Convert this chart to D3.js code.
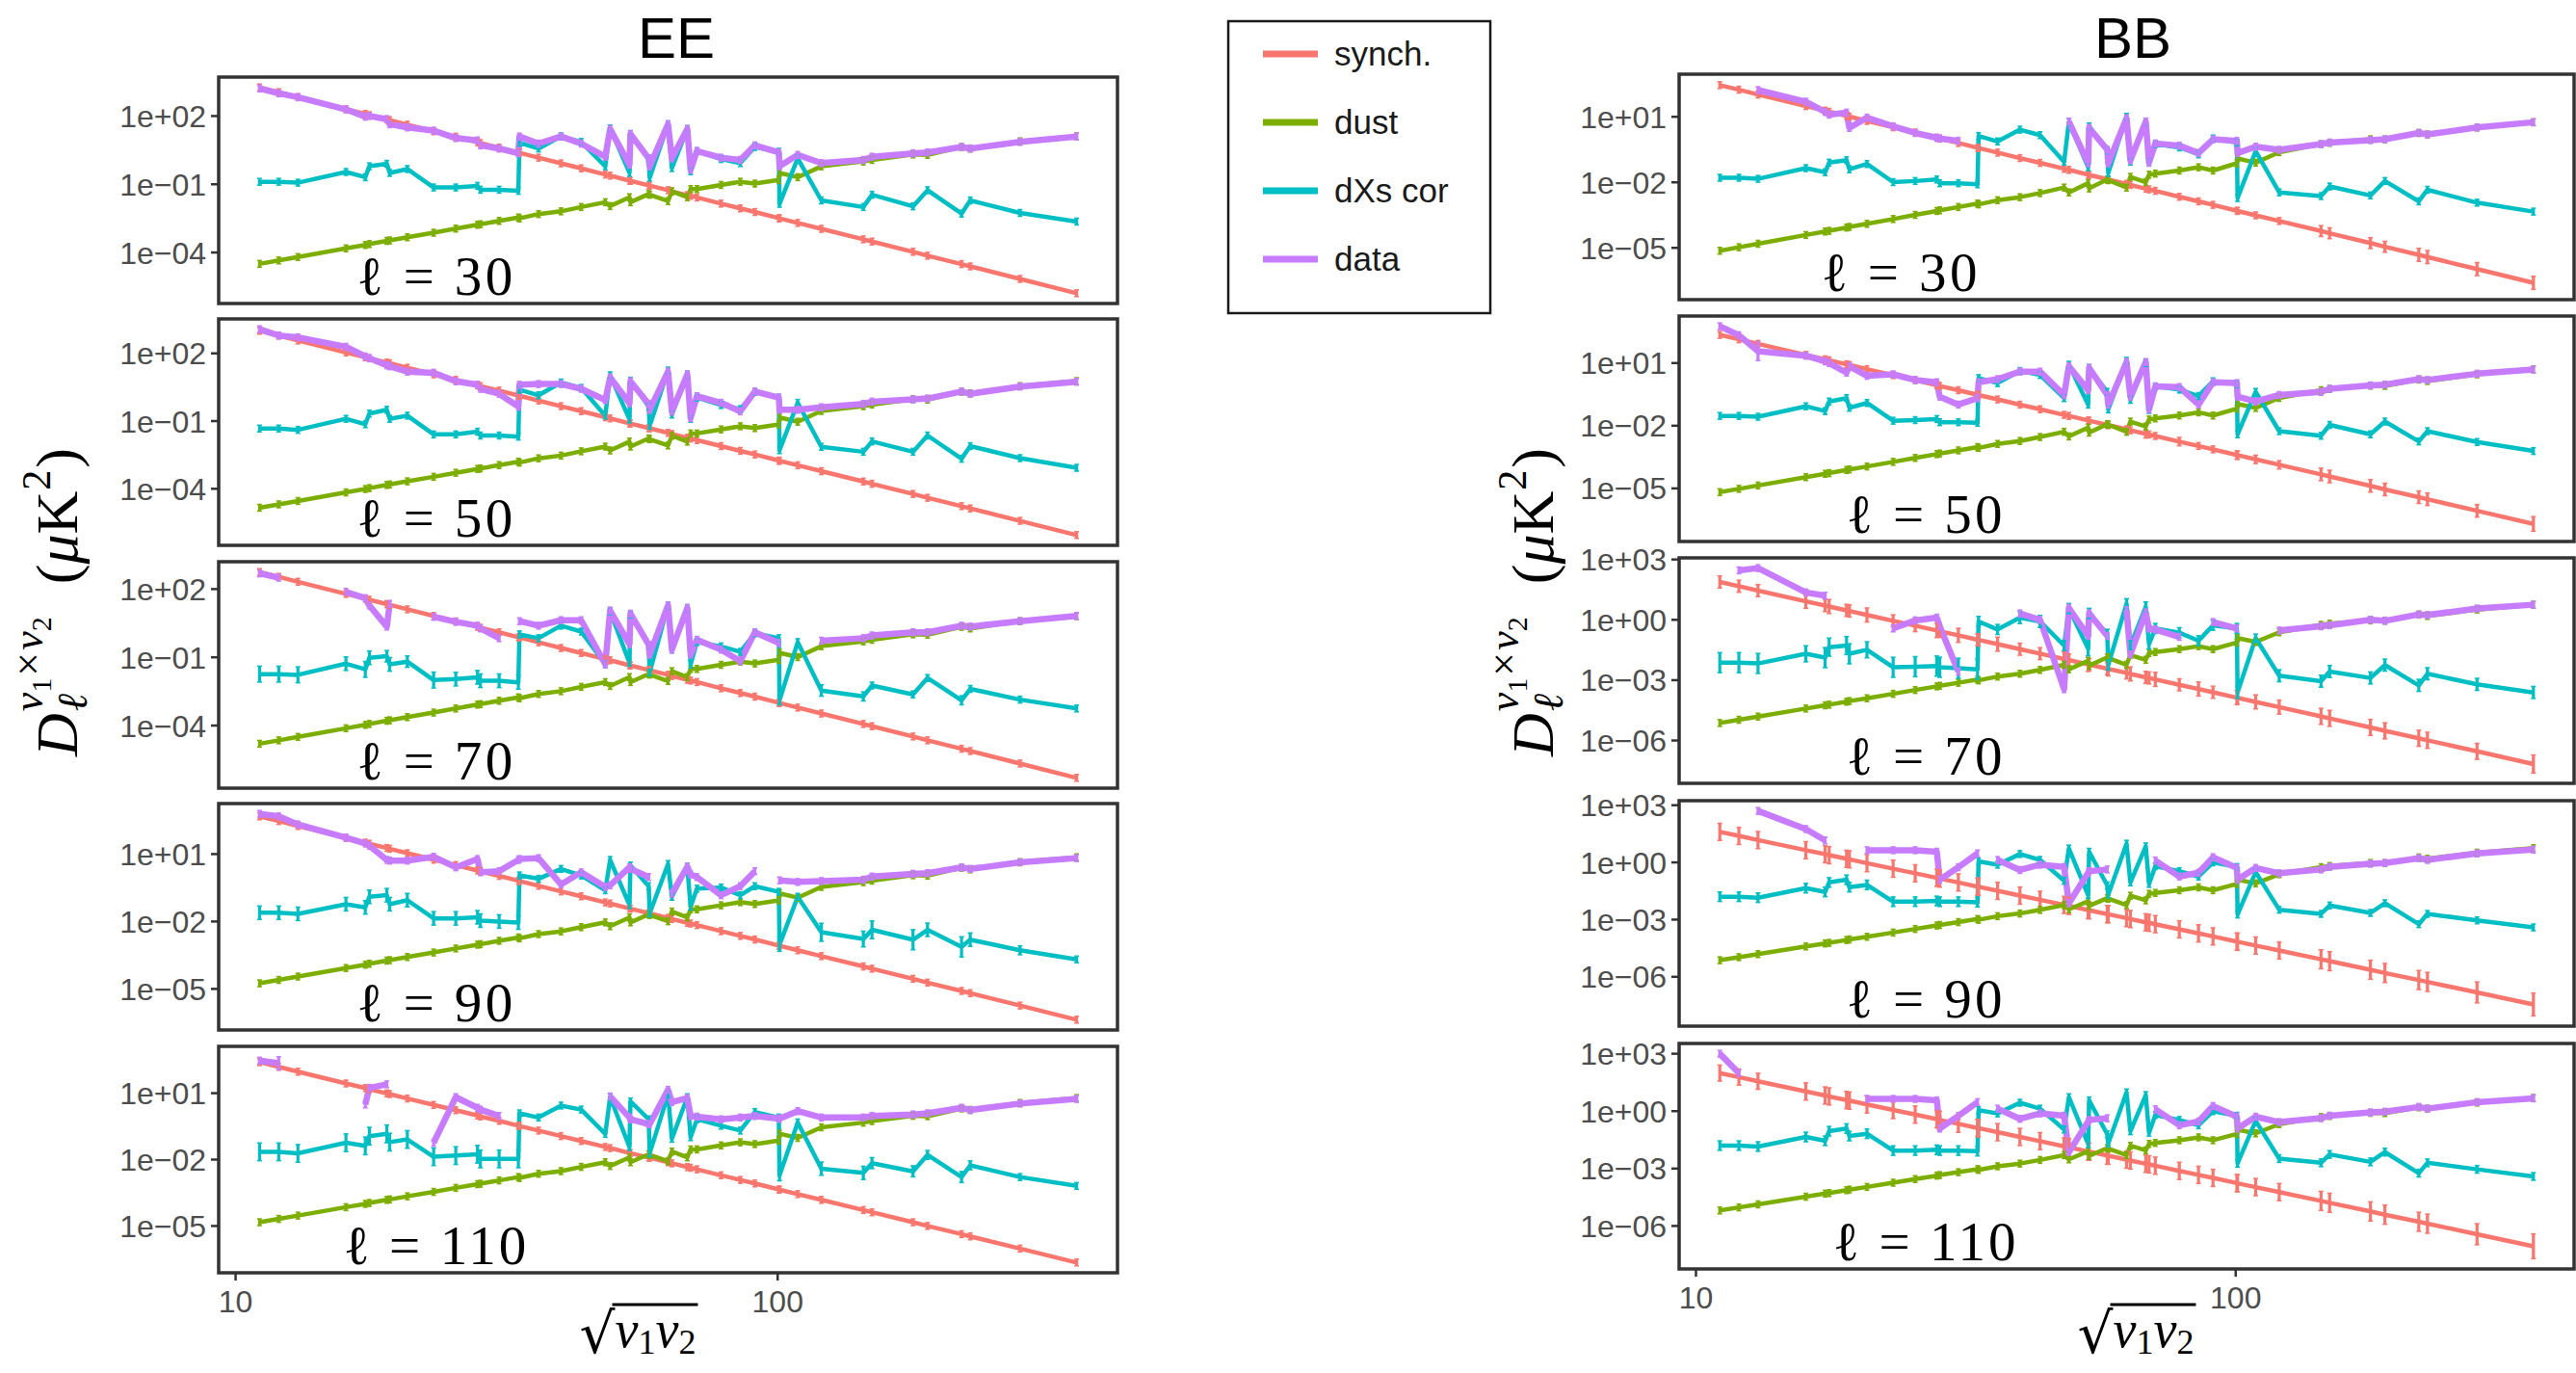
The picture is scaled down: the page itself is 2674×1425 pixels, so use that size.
<!DOCTYPE html>
<html>
<head>
<meta charset="utf-8">
<script src="https://cdn.jsdelivr.net/npm/d3@7"></script>
<style>
  body { margin: 0; background: #fff; overflow: hidden; }
  svg { display: block; }
</style>
</head>
<body>
<svg id="chart" width="2674" height="1425"></svg>
<script>
// ===================================
// EE / BB foreground cross-spectra vs sqrt(nu1 nu2)
// values are log10(D_ell / uK^2)
// ===================================

const seriesNames = ['synch.', 'dust', 'dXs cor', 'data'];
const seriesColors = ['#F8766D', '#7CAE00', '#00BFC4', '#C77CFF'];
const ells = [30, 50, 70, 90, 110];
const xTicks = ['10', '100'];
const eeTicks = [
    ['1e+02', '1e-01', '1e-04'], ['1e+02', '1e-01', '1e-04'], ['1e+02', '1e-01', '1e-04'],
    ['1e+01', '1e-02', '1e-05'], ['1e+01', '1e-02', '1e-05']
];
const bbTicks = [
    ['1e+01', '1e-02', '1e-05'], ['1e+01', '1e-02', '1e-05'],
    ['1e+03', '1e+00', '1e-03', '1e-06'], ['1e+03', '1e+00', '1e-03', '1e-06'], ['1e+03', '1e+00', '1e-03', '1e-06']
];

// sqrt(nu1 nu2) of every frequency pair (GHz)
const pairX = [11.07, 12.01, 13.03, 15.98, 17.35, 17.65, 19.01, 19.24, 20.74, 23.19,
    25.48, 27.94, 28.29, 30.63, 33.24, 33.39, 36.21, 39.83, 43.40, 48.09,
    49.08, 53.29, 53.51, 57.82, 58.06, 62.77, 63.81, 68.13, 69.09, 70.97,
    78.62, 85.33, 90.77, 100.5, 100.8, 108.9, 120.4, 143.9, 149.3, 177.7,
    189.0, 218.4, 226.6, 280.0, 356.1];

// ---------- EE ----------
const ee30Synch = [3.26, 3.05, 2.83, 2.30, 2.09, 2.04, 1.85, 1.82, 1.62, 1.33,
    1.09, 0.85, 0.81, 0.61, 0.39, 0.38, 0.17, -0.08, -0.30, -0.57,
    -0.62, -0.84, -0.85, -1.05, -1.06, -1.26, -1.31, -1.48, -1.51, -1.58,
    -1.85, -2.06, -2.22, -2.49, -2.50, -2.70, -2.96, -3.42, -3.52, -3.97,
    -4.14, -4.51, -4.61, -5.16, -5.79];
const ee30Dust = [-4.50, -4.35, -4.20, -3.82, -3.67, -3.63, -3.49, -3.47, -3.33, -3.13,
    -2.95, -2.78, -2.76, -2.61, -2.46, -2.50, -2.31, -2.19, -2.00, -1.79,
    -1.96, -1.57, -1.79, -1.43, -1.46, -1.74, -1.31, -1.57, -1.21, -1.21,
    -1.03, -0.89, -0.97, -0.81, -0.50, -0.69, -0.21, 0.00, 0.07, 0.31,
    0.29, 0.64, 0.57, 0.89, 1.11];
const ee30Dxs = [-0.89, -0.89, -0.93, -0.46, -0.69, -0.21, -0.10, -0.50, -0.33, -1.14,
    -1.14, -1.07, -1.24, -1.24, -1.29, 0.83, 0.57, 1.11, 0.86, -0.21,
    1.46, -0.50, 1.21, 0.14, -0.71, 1.64, -0.29, 1.43, -0.43, 0.46,
    0.11, -0.07, 0.64, 0.43, -1.86, 0.14, -1.71, -2.00, -1.46, -1.97,
    -1.26, -2.29, -1.71, -2.26, -2.64];
const ee30Data = [3.21, 3.00, 2.83, 2.29, 1.97, 2.00, 1.86, 1.64, 1.50, 1.36,
    1.03, 0.93, 0.71, 0.57, 0.36, 1.10, 0.79, 1.10, 0.79, 0.21,
    1.43, -0.14, 1.21, 0.14, -0.21, 1.64, 0.14, 1.43, -0.36, 0.46,
    0.17, 0.07, 0.71, 0.40, -0.21, 0.29, -0.07, 0.07, 0.21, 0.36,
    0.40, 0.64, 0.57, 0.86, 1.10];

const ee50Synch = [3.00, 2.79, 2.57, 2.04, 1.83, 1.78, 1.59, 1.56, 1.36, 1.07,
    0.83, 0.59, 0.55, 0.35, 0.13, 0.12, -0.09, -0.34, -0.56, -0.83,
    -0.88, -1.10, -1.11, -1.31, -1.32, -1.52, -1.57, -1.74, -1.77, -1.84,
    -2.11, -2.32, -2.48, -2.75, -2.76, -2.96, -3.22, -3.68, -3.78, -4.23,
    -4.40, -4.77, -4.87, -5.42, -6.05];
const ee50Dust = [-4.84, -4.69, -4.54, -4.16, -4.01, -3.97, -3.83, -3.81, -3.67, -3.47,
    -3.29, -3.12, -3.10, -2.95, -2.80, -2.84, -2.65, -2.53, -2.34, -2.13,
    -2.30, -1.91, -2.13, -1.77, -1.80, -2.08, -1.65, -1.91, -1.55, -1.55,
    -1.37, -1.23, -1.31, -1.15, -0.84, -1.03, -0.55, -0.34, -0.27, -0.03,
    -0.05, 0.30, 0.23, 0.55, 0.77];
const ee50Dxs = [-1.33, -1.33, -1.39, -0.90, -1.14, -0.67, -0.50, -0.90, -0.76, -1.59,
    -1.59, -1.47, -1.64, -1.64, -1.69, 0.39, 0.14, 0.71, 0.47, -0.76,
    1.03, -0.93, 0.79, -0.36, -1.21, 1.24, -0.71, 1.07, -0.90, 0.04,
    -0.29, -0.47, 0.29, 0.04, -2.29, -0.19, -2.14, -2.36, -1.90, -2.36,
    -1.64, -2.67, -2.11, -2.64, -3.07];
const ee50Data = [3.07, 2.79, 2.71, 2.29, 1.86, 1.79, 1.47, 1.43, 1.19, 1.14,
    0.76, 0.61, 0.43, 0.21, -0.36, 0.61, 0.64, 0.64, 0.43, -0.07,
    0.93, -0.21, 0.76, -0.24, -0.50, 1.19, -0.57, 1.07, -0.86, 0.10,
    -0.19, -0.57, 0.31, 0.04, -0.50, -0.50, -0.39, -0.24, -0.14, -0.04,
    0.00, 0.31, 0.21, 0.53, 0.74];

const ee70Synch = [2.75, 2.54, 2.32, 1.79, 1.58, 1.53, 1.34, 1.31, 1.11, 0.82,
    0.58, 0.34, 0.30, 0.10, -0.12, -0.13, -0.34, -0.59, -0.81, -1.08,
    -1.13, -1.35, -1.36, -1.56, -1.57, -1.77, -1.82, -1.99, -2.02, -2.09,
    -2.36, -2.57, -2.73, -3.00, -3.01, -3.21, -3.47, -3.93, -4.03, -4.48,
    -4.65, -5.02, -5.12, -5.67, -6.30];
const ee70Dust = [-4.80, -4.65, -4.50, -4.12, -3.97, -3.93, -3.79, -3.77, -3.63, -3.43,
    -3.25, -3.08, -3.06, -2.91, -2.76, -2.80, -2.61, -2.49, -2.30, -2.09,
    -2.26, -1.87, -2.09, -1.73, -1.76, -2.04, -1.61, -1.87, -1.51, -1.51,
    -1.33, -1.19, -1.27, -1.11, -0.80, -0.99, -0.51, -0.30, -0.23, 0.01,
    -0.01, 0.34, 0.27, 0.59, 0.81];
const ee70Dxs = [-1.74, -1.74, -1.77, -1.28, -1.53, -1.02, -0.95, -1.31, -1.19, -2.00,
    -1.96, -1.88, -2.03, -2.03, -2.10, 0.01, -0.16, 0.39, 0.13, -1.31,
    1.02, -1.24, 0.88, -0.45, -1.67, 1.28, -0.66, 1.17, -1.31, -0.33,
    -0.52, -0.76, 0.06, -0.16, -2.89, -0.33, -2.46, -2.72, -2.24, -2.63,
    -1.91, -2.89, -2.39, -2.86, -3.25];
const ee70Data = [2.69, 2.50, null, 1.88, 1.60, 1.28, 0.35, 1.35, null, 0.78,
    0.56, 0.39, 0.27, -0.16, null, 0.59, 0.39, 0.63, 0.63, -1.31,
    1.06, -0.42, 0.92, -0.45, -0.88, 1.28, -0.66, 1.17, -0.88, -0.23,
    -0.66, -1.17, 0.10, -0.37, null, null, -0.27, -0.16, -0.04, 0.10,
    0.10, 0.39, 0.35, 0.59, 0.82];
const ee70DxsErr = [0.35, 0.35, 0.35, 0.3, 0.35, 0.3, 0.25, 0.3, 0.25, 0.35,
    0.3, 0.3, 0.3, 0.3, 0.3, 0.05, 0.05, 0.05, 0.05, 0.05,
    0.05, 0.05, 0.05, 0.05, 0.05, 0.05, 0.05, 0.05, 0.05, 0.05,
    0.05, 0.05, 0.05, 0.05, 0.2, 0.05, 0.25, 0.2, 0.15, 0.15,
    0.1, 0.2, 0.15, 0.1, 0.1];

const ee90Synch = [2.68, 2.47, 2.25, 1.72, 1.51, 1.46, 1.27, 1.24, 1.04, 0.75,
    0.51, 0.27, 0.23, 0.03, -0.19, -0.20, -0.41, -0.66, -0.88, -1.15,
    -1.20, -1.42, -1.43, -1.63, -1.64, -1.84, -1.89, -2.06, -2.09, -2.16,
    -2.43, -2.64, -2.80, -3.07, -3.08, -3.28, -3.54, -4.00, -4.10, -4.55,
    -4.72, -5.09, -5.19, -5.74, -6.37];
const ee90Dust = [-4.75, -4.60, -4.45, -4.07, -3.92, -3.88, -3.74, -3.72, -3.58, -3.38,
    -3.20, -3.03, -3.01, -2.86, -2.71, -2.75, -2.56, -2.44, -2.25, -2.04,
    -2.21, -1.82, -2.04, -1.68, -1.71, -1.99, -1.56, -1.82, -1.46, -1.46,
    -1.28, -1.14, -1.22, -1.06, -0.75, -0.94, -0.46, -0.25, -0.18, 0.06,
    0.04, 0.39, 0.32, 0.64, 0.86];
const ee90Dxs = [-1.61, -1.61, -1.66, -1.23, -1.37, -0.90, -0.83, -1.23, -1.05, -1.86,
    -1.86, -1.81, -1.96, -2.00, -2.05, 0.05, -0.10, 0.34, 0.05, -0.61,
    0.74, -1.27, 0.49, -0.43, -1.64, 0.56, -0.90, 0.44, -1.34, -0.54,
    -0.49, -0.83, -0.43, -0.68, -3.03, -0.90, -2.48, -2.78, -2.37, -2.81,
    -2.37, -3.13, -2.81, -3.28, -3.69];
const ee90Data = [2.79, 2.68, 2.32, 1.73, 1.47, 1.37, 0.74, 0.71, 0.71, 0.88,
    0.41, 0.78, 0.19, 0.24, 0.74, 0.78, 0.82, -0.35, 0.19, -0.46,
    -0.39, 0.41, 0.34, -0.02, null, null, -0.76, 0.44, 0.10, -0.02,
    -0.83, -0.43, 0.24, null, -0.17, -0.24, -0.20, -0.14, 0.00, 0.12,
    0.15, 0.41, 0.34, 0.63, 0.82];
const ee90DxsErr = [0.3, 0.3, 0.3, 0.3, 0.3, 0.3, 0.3, 0.3, 0.3, 0.3,
    0.3, 0.3, 0.3, 0.3, 0.3, 0.05, 0.05, 0.05, 0.05, 0.05,
    0.05, 0.05, 0.05, 0.05, 0.05, 0.05, 0.05, 0.05, 0.05, 0.05,
    0.05, 0.05, 0.05, 0.05, 0.3, 0.05, 0.4, 0.35, 0.4, 0.45,
    0.3, 0.45, 0.3, 0.2, 0.15];

const ee110Synch = [2.40, 2.19, 1.97, 1.44, 1.23, 1.18, 0.99, 0.96, 0.76, 0.47,
    0.23, -0.01, -0.05, -0.25, -0.47, -0.48, -0.69, -0.94, -1.16, -1.43,
    -1.48, -1.70, -1.71, -1.91, -1.92, -2.12, -2.17, -2.34, -2.37, -2.44,
    -2.71, -2.92, -3.08, -3.35, -3.36, -3.56, -3.82, -4.28, -4.38, -4.83,
    -5.00, -5.37, -5.47, -6.02, -6.65];
const ee110Dust = [-4.83, -4.68, -4.53, -4.15, -4.00, -3.96, -3.82, -3.80, -3.66, -3.46,
    -3.28, -3.11, -3.09, -2.94, -2.79, -2.83, -2.64, -2.52, -2.33, -2.12,
    -2.29, -1.90, -2.12, -1.76, -1.79, -2.07, -1.64, -1.90, -1.54, -1.54,
    -1.36, -1.22, -1.30, -1.14, -0.83, -1.02, -0.54, -0.33, -0.26, -0.02,
    -0.04, 0.31, 0.24, 0.56, 0.78];
const ee110Dxs = [-1.65, -1.65, -1.72, -1.24, -1.38, -0.94, -0.84, -1.21, -1.09, -1.87,
    -1.82, -1.76, -1.97, -1.97, -1.97, 0.09, -0.10, 0.44, 0.26, -0.84,
    0.82, -1.43, 0.63, -0.18, -1.72, 0.93, -1.06, 0.82, -0.99, -0.18,
    -0.47, -0.69, 0.15, -0.10, -2.71, -0.32, -2.41, -2.60, -2.16, -2.53,
    -1.79, -2.79, -2.26, -2.79, -3.19];
const ee110Data = [2.47, 2.35, null, null, 0.49, 1.24, 1.40, null, null, -1.24,
    0.82, 0.34, 0.26, -0.03, null, null, null, null, null, null,
    0.85, -0.10, -0.18, -0.40, -0.40, 1.15, 0.60, 0.78, -0.03, -0.06,
    -0.18, -0.10, -0.03, -0.15, -0.15, 0.19, -0.10, -0.10, -0.03, 0.04,
    0.09, 0.34, 0.24, 0.53, 0.74];
const ee110DxsErr = [0.4, 0.4, 0.4, 0.4, 0.4, 0.4, 0.4, 0.4, 0.4, 0.4,
    0.4, 0.4, 0.4, 0.4, 0.4, 0.05, 0.05, 0.05, 0.05, 0.05,
    0.05, 0.05, 0.05, 0.05, 0.05, 0.05, 0.05, 0.05, 0.05, 0.05,
    0.05, 0.05, 0.05, 0.05, 0.25, 0.05, 0.3, 0.3, 0.25, 0.25,
    0.2, 0.25, 0.2, 0.15, 0.15];
const ee110DataErr = [0.15, 0.3];

// ---------- BB ----------
const bb30Synch = [2.45, 2.24, 2.02, 1.49, 1.28, 1.23, 1.04, 1.01, 0.81, 0.52,
    0.28, 0.04, 0.00, -0.20, -0.42, -0.43, -0.64, -0.89, -1.11, -1.38,
    -1.43, -1.65, -1.66, -1.86, -1.87, -2.07, -2.12, -2.29, -2.32, -2.39,
    -2.66, -2.87, -3.03, -3.30, -3.31, -3.51, -3.77, -4.23, -4.33, -4.78,
    -4.95, -5.32, -5.42, -5.97, -6.60];
const bb30Dust = [-5.13, -4.97, -4.81, -4.41, -4.25, -4.22, -4.07, -4.04, -3.90, -3.68,
    -3.49, -3.31, -3.28, -3.13, -2.97, -3.01, -2.82, -2.68, -2.49, -2.24,
    -2.46, -2.04, -2.28, -1.87, -1.90, -2.24, -1.75, -1.99, -1.65, -1.60,
    -1.46, -1.31, -1.46, -1.13, -0.91, -1.10, -0.62, -0.25, -0.19, -0.03,
    -0.04, 0.26, 0.19, 0.51, 0.75];
const bb30Dxs = [-1.79, -1.79, -1.84, -1.35, -1.54, -1.10, -0.99, -1.40, -1.16, -1.99,
    -1.94, -1.87, -2.04, -2.04, -2.09, 0.12, -0.13, 0.41, 0.16, -1.06,
    0.75, -1.31, 0.56, -0.54, -1.57, 1.00, -1.06, 0.78, -1.10, -0.25,
    -0.40, -0.72, 0.01, -0.18, -2.72, -0.57, -2.46, -2.63, -2.19, -2.60,
    -1.94, -2.87, -2.34, -2.93, -3.34];
const bb30Data = [null, null, 2.22, 1.69, 1.22, 1.10, 1.19, 0.49, 0.96, 0.56,
    0.26, 0.04, 0.01, -0.10, null, null, null, null, null, null,
    0.78, -1.13, 0.49, -0.51, -1.13, 0.93, -0.99, 0.78, -1.10, -0.22,
    -0.32, -0.66, -0.03, -0.10, -0.66, -0.37, -0.51, -0.25, -0.18, -0.07,
    -0.03, 0.26, 0.19, 0.51, 0.75];
const bb30SynchErr = [0.03, 0.03, 0.03, 0.03, 0.03, 0.03, 0.03, 0.03, 0.03, 0.03,
    0.03, 0.03, 0.03, 0.03, 0.03, 0.03, 0.03, 0.03, 0.03, 0.03,
    0.03, 0.03, 0.03, 0.03, 0.03, 0.03, 0.03, 0.1, 0.1, 0.1,
    0.15, 0.15, 0.15, 0.15, 0.15, 0.15, 0.15, 0.25, 0.25, 0.25,
    0.25, 0.3, 0.3, 0.3, 0.3];
const bb30DxsErr = [0.12, 0.12, 0.12, 0.12, 0.12, 0.12, 0.12, 0.12, 0.12, 0.12,
    0.12, 0.12, 0.12, 0.12, 0.12];

const bb50Synch = [2.35, 2.14, 1.92, 1.39, 1.18, 1.13, 0.94, 0.91, 0.71, 0.42,
    0.18, -0.06, -0.10, -0.30, -0.52, -0.53, -0.74, -0.99, -1.21, -1.48,
    -1.53, -1.75, -1.76, -1.96, -1.97, -2.17, -2.22, -2.39, -2.42, -2.49,
    -2.76, -2.97, -3.13, -3.40, -3.41, -3.61, -3.87, -4.33, -4.43, -4.88,
    -5.05, -5.42, -5.52, -6.07, -6.70];
const bb50Dust = [-5.18, -5.02, -4.86, -4.46, -4.30, -4.27, -4.12, -4.09, -3.95, -3.73,
    -3.54, -3.36, -3.33, -3.18, -3.02, -3.06, -2.87, -2.73, -2.54, -2.29,
    -2.51, -2.09, -2.33, -1.92, -1.95, -2.29, -1.80, -2.04, -1.70, -1.65,
    -1.51, -1.36, -1.51, -1.18, -0.96, -1.15, -0.67, -0.30, -0.24, -0.08,
    -0.09, 0.21, 0.14, 0.46, 0.70];
const bb50Dxs = [-1.53, -1.53, -1.57, -1.07, -1.30, -0.84, -0.68, -1.14, -0.91, -1.76,
    -1.73, -1.68, -1.83, -1.83, -1.86, 0.28, 0.04, 0.62, 0.43, -0.68,
    0.92, -0.99, 0.77, -0.38, -1.22, 1.11, -0.76, 1.00, -1.25, -0.12,
    -0.27, -0.58, 0.13, 0.00, -2.41, -0.38, -2.26, -2.48, -1.96, -2.41,
    -1.80, -2.75, -2.26, -2.78, -3.21];
const bb50Data = [2.76, 2.33, 1.57, 1.35, 1.08, 1.00, 0.54, 0.85, 0.39, 0.46,
    0.19, 0.08, -0.61, -0.99, -0.68, 0.08, 0.23, 0.59, 0.59, -0.53,
    0.85, -0.30, 0.77, -0.53, -0.99, 1.05, -0.61, 1.05, -1.22, -0.12,
    -0.15, -0.99, 0.08, 0.04, -0.61, -0.84, -0.53, -0.38, -0.23, -0.07,
    -0.03, 0.23, 0.19, 0.49, 0.69];
const bb50SynchErr = [0.03, 0.03, 0.03, 0.03, 0.03, 0.03, 0.03, 0.03, 0.03, 0.03,
    0.03, 0.03, 0.03, 0.03, 0.03, 0.03, 0.03, 0.03, 0.03, 0.15,
    0.05, 0.1, 0.05, 0.1, 0.05, 0.15, 0.15, 0.2, 0.15, 0.15,
    0.2, 0.15, 0.15, 0.2, 0.2, 0.2, 0.2, 0.3, 0.3, 0.3,
    0.3, 0.3, 0.3, 0.3, 0.35];
const bb50DataErr = [0, 0, 0.45];

const bb70Synch = [1.88, 1.67, 1.45, 0.92, 0.71, 0.66, 0.47, 0.44, 0.24, -0.05,
    -0.29, -0.53, -0.57, -0.77, -0.99, -1.00, -1.21, -1.46, -1.68, -1.95,
    -2.00, -2.22, -2.23, -2.43, -2.44, -2.64, -2.69, -2.86, -2.89, -2.96,
    -3.23, -3.44, -3.60, -3.87, -3.88, -4.08, -4.34, -4.80, -4.90, -5.35,
    -5.52, -5.89, -5.99, -6.54, -7.17];
const bb70Dust = [-5.13, -4.97, -4.81, -4.41, -4.25, -4.22, -4.07, -4.04, -3.90, -3.68,
    -3.49, -3.31, -3.28, -3.13, -2.97, -3.01, -2.82, -2.68, -2.49, -2.24,
    -2.46, -2.04, -2.28, -1.87, -1.90, -2.24, -1.75, -1.99, -1.65, -1.60,
    -1.46, -1.31, -1.46, -1.13, -0.91, -1.10, -0.62, -0.25, -0.19, -0.03,
    -0.04, 0.26, 0.19, 0.51, 0.75];
const bb70Dxs = [-2.13, -2.13, -2.17, -1.69, -1.88, -1.36, -1.28, -1.69, -1.49, -2.36,
    -2.33, -2.30, -2.36, -2.41, -2.46, -0.08, -0.48, 0.11, -0.08, -1.28,
    0.56, -1.44, 0.32, -0.72, -2.25, 0.80, -1.28, 0.64, -1.20, -0.43,
    -0.64, -1.04, -0.27, -0.43, -3.61, -0.91, -2.78, -3.05, -2.57, -2.89,
    -2.25, -3.26, -2.68, -3.21, -3.61];
const bb70Data = [null, 2.46, 2.57, 1.36, 1.20, null, null, null, null, -0.43,
    -0.03, 0.11, -0.32, -2.57, null, null, null, 0.32, 0.00, -3.45,
    0.59, -0.80, 0.32, -0.80, null, 0.48, -1.72, 0.37, -0.43, -0.48,
    -0.85, null, -0.11, -0.43, null, null, -0.53, -0.32, -0.27, 0.00,
    -0.05, 0.27, 0.24, 0.56, 0.75];
const bb70SynchErr = [0.3, 0.3, 0.3, 0.35, 0.3, 0.35, 0.3, 0.3, 0.35, 0.3,
    0.3, 0.35, 0.3, 0.35, 0.3, 0.3, 0.35, 0.3, 0.3, 0.35,
    0.3, 0.35, 0.3, 0.3, 0.35, 0.3, 0.35, 0.3, 0.3, 0.35,
    0.3, 0.35, 0.3, 0.35, 0.3, 0.35, 0.35, 0.4, 0.4, 0.4,
    0.4, 0.4, 0.4, 0.4, 0.45];
const bb70DxsErr = [0.5, 0.5, 0.5, 0.4, 0.5, 0.45, 0.45, 0.5, 0.4, 0.5,
    0.5, 0.5, 0.5, 0.5, 0.5, 0.25, 0.25, 0.3, 0.3, 0.25,
    0.25, 0.35, 0.25, 0.25, 0.25, 0.25, 0.25, 0.25, 0.25, 0.25,
    0.25, 0.25, 0.25, 0.25, 0.3, 0.2, 0.3, 0.3, 0.3, 0.3,
    0.3, 0.3, 0.3, 0.3, 0.3];

// BB l=90 (read from the overview only)
const bb90Synch = [1.60, 1.39, 1.17, 0.64, 0.43, 0.38, 0.19, 0.16, -0.04, -0.33,
    -0.57, -0.81, -0.85, -1.05, -1.27, -1.28, -1.49, -1.74, -1.96, -2.23,
    -2.28, -2.50, -2.51, -2.71, -2.72, -2.92, -2.97, -3.14, -3.17, -3.24,
    -3.51, -3.72, -3.88, -4.15, -4.16, -4.36, -4.62, -5.08, -5.18, -5.63,
    -5.80, -6.17, -6.27, -6.82, -7.45];
const bb90Dust = [-5.13, -4.97, -4.81, -4.41, -4.25, -4.22, -4.07, -4.04, -3.90, -3.68,
    -3.49, -3.31, -3.28, -3.13, -2.97, -3.01, -2.82, -2.68, -2.49, -2.24,
    -2.46, -2.04, -2.28, -1.87, -1.90, -2.24, -1.75, -1.99, -1.65, -1.60,
    -1.46, -1.31, -1.46, -1.13, -0.91, -1.10, -0.62, -0.25, -0.19, -0.03,
    -0.04, 0.26, 0.19, 0.51, 0.75];
const bb90Dxs = [-1.80, -1.80, -1.85, -1.35, -1.55, -1.05, -0.91, -1.30, -1.18, -2.06,
    -2.06, -2.02, -2.06, -2.06, -2.09, 0.05, -0.12, 0.44, 0.13, -0.96,
    0.73, -1.72, 0.56, -1.21, -1.69, 0.98, -1.05, 0.84, -1.13, -0.20,
    -0.46, -0.74, 0.00, -0.24, -2.73, -0.51, -2.48, -2.70, -2.26, -2.65,
    -2.14, -3.24, -2.70, -3.04, -3.41];
const bb90Data = [null, null, 2.70, 1.75, 1.15, null, null, null, 0.64, 0.64,
    0.64, 0.56, -0.91, -0.25, 0.47, null, 0.13, -0.40, -0.12, -0.24,
    -2.14, -0.54, -0.46, -0.37, null, null, null, null, null, 0.10,
    -0.74, -0.54, 0.27, -0.29, -0.91, -0.29, -0.57, -0.37, -0.24, -0.07,
    -0.03, 0.22, 0.13, 0.47, 0.67];
const bb90SynchErr = [0.45, 0.45, 0.45, 0.45, 0.45, 0.45, 0.45, 0.45, 0.45, 0.45,
    0.45, 0.45, 0.45, 0.45, 0.45, 0.45, 0.45, 0.45, 0.45, 0.45,
    0.45, 0.45, 0.45, 0.45, 0.45, 0.45, 0.45, 0.45, 0.45, 0.45,
    0.45, 0.45, 0.45, 0.45, 0.45, 0.45, 0.45, 0.5, 0.5, 0.5,
    0.5, 0.5, 0.5, 0.55, 0.6];
const bb90DxsErr = [0.25, 0.25, 0.25, 0.25, 0.25, 0.25, 0.25, 0.25, 0.25, 0.25,
    0.25, 0.25, 0.25, 0.25, 0.25];

const bb110Synch = [1.99, 1.78, 1.56, 1.03, 0.82, 0.77, 0.58, 0.55, 0.35, 0.06,
    -0.18, -0.42, -0.46, -0.66, -0.88, -0.89, -1.10, -1.35, -1.57, -1.84,
    -1.89, -2.11, -2.12, -2.32, -2.33, -2.53, -2.58, -2.75, -2.78, -2.85,
    -3.12, -3.33, -3.49, -3.76, -3.77, -3.97, -4.23, -4.69, -4.79, -5.24,
    -5.41, -5.78, -5.88, -6.43, -7.06];
const bb110Dust = [-5.19, -5.03, -4.87, -4.47, -4.31, -4.28, -4.13, -4.10, -3.96, -3.74,
    -3.55, -3.37, -3.34, -3.19, -3.03, -3.07, -2.88, -2.74, -2.55, -2.30,
    -2.52, -2.10, -2.34, -1.93, -1.96, -2.30, -1.81, -2.05, -1.71, -1.66,
    -1.52, -1.37, -1.52, -1.19, -0.97, -1.16, -0.68, -0.31, -0.25, -0.09,
    -0.10, 0.20, 0.13, 0.45, 0.69];
const bb110Dxs = [-1.80, -1.80, -1.85, -1.35, -1.55, -1.05, -0.91, -1.30, -1.18, -2.06,
    -2.06, -2.02, -2.06, -2.06, -2.09, 0.05, -0.12, 0.44, 0.13, -0.96,
    0.73, -1.72, 0.56, -1.21, -1.69, 0.98, -1.05, 0.84, -1.13, -0.20,
    -0.46, -0.74, 0.00, -0.24, -2.73, -0.51, -2.48, -2.70, -2.26, -2.65,
    -2.14, -3.24, -2.70, -3.04, -3.41];
const bb110Data = [3.00, 1.99, null, null, null, null, null, null, 0.64, 0.64,
    0.64, 0.56, -0.91, -0.25, 0.47, null, 0.13, -0.40, -0.12, -0.24,
    -2.14, -0.54, -0.46, -0.37, null, null, null, null, null, 0.10,
    -0.74, -0.54, 0.27, -0.29, -0.91, -0.29, -0.57, -0.37, -0.24, -0.07,
    -0.03, 0.22, 0.13, 0.47, 0.67];
const bb110SynchErr = [0.42, 0.42, 0.42, 0.45, 0.45, 0.45, 0.45, 0.45, 0.45, 0.45,
    0.45, 0.45, 0.45, 0.45, 0.45, 0.45, 0.45, 0.45, 0.45, 0.45,
    0.45, 0.45, 0.45, 0.45, 0.45, 0.45, 0.45, 0.45, 0.45, 0.45,
    0.45, 0.45, 0.45, 0.45, 0.45, 0.45, 0.45, 0.5, 0.5, 0.5,
    0.5, 0.5, 0.5, 0.55, 0.65];
const bb110DxsErr = [0.25, 0.25, 0.25, 0.25, 0.25, 0.25, 0.25, 0.25, 0.25, 0.25,
    0.25, 0.25, 0.25, 0.25, 0.25, 0.1, 0.1, 0.1, 0.1, 0.1,
    0.1, 0.1, 0.1, 0.1, 0.1, 0.1, 0.1, 0.1, 0.1, 0.1,
    0.1, 0.1, 0.1, 0.1, 0.2, 0.1, 0.2, 0.2, 0.2, 0.2,
    0.2, 0.2, 0.2, 0.2, 0.2];

// ===================================
// layout
// ===================================
const layout = {
    EE: { left: 227, right: 1160, tops: [80, 331, 583, 834, 1086], height: 235,
          titleX: 702, yLabelX: 80, xLabelX: 662 },
    BB: { left: 1743, right: 2672, tops: [77, 328, 579, 831, 1083], height: 234,
          titleX: 2214, yLabelX: 1612, xLabelX: 2217 }
};
const lineWidths = [4.5, 4.5, 4.5, 6.5];
const sansFont = '"Liberation Sans", Arial, Helvetica, sans-serif';
const mathFont = '"Liberation Serif", "DejaVu Serif", serif';

const panels = [
    { spec: 'EE', row: 0, ticks: eeTicks[0], labelX: 23.3, series: [ee30Synch, ee30Dust, ee30Dxs, ee30Data], errs: [[], [], [], []] },
    { spec: 'EE', row: 1, ticks: eeTicks[1], labelX: 23.3, series: [ee50Synch, ee50Dust, ee50Dxs, ee50Data], errs: [[], [], [], []] },
    { spec: 'EE', row: 2, ticks: eeTicks[2], labelX: 23.3, series: [ee70Synch, ee70Dust, ee70Dxs, ee70Data], errs: [[], [], ee70DxsErr, []] },
    { spec: 'EE', row: 3, ticks: eeTicks[3], labelX: 23.3, series: [ee90Synch, ee90Dust, ee90Dxs, ee90Data], errs: [[], [], ee90DxsErr, []] },
    { spec: 'EE', row: 4, ticks: eeTicks[4], labelX: 23.3, series: [ee110Synch, ee110Dust, ee110Dxs, ee110Data], errs: [[], [], ee110DxsErr, ee110DataErr] },
    { spec: 'BB', row: 0, ticks: bbTicks[0], labelX: 23.8, series: [bb30Synch, bb30Dust, bb30Dxs, bb30Data], errs: [bb30SynchErr, [], bb30DxsErr, []] },
    { spec: 'BB', row: 1, ticks: bbTicks[1], labelX: 26.5, series: [bb50Synch, bb50Dust, bb50Dxs, bb50Data], errs: [bb50SynchErr, [], [], bb50DataErr] },
    { spec: 'BB', row: 2, ticks: bbTicks[2], labelX: 26.5, series: [bb70Synch, bb70Dust, bb70Dxs, bb70Data], errs: [bb70SynchErr, [], bb70DxsErr, []] },
    { spec: 'BB', row: 3, ticks: bbTicks[3], labelX: 26.5, series: [bb90Synch, bb90Dust, bb90Dxs, bb90Data], errs: [bb90SynchErr, [], bb90DxsErr, []] },
    { spec: 'BB', row: 4, ticks: bbTicks[4], labelX: 26.5, series: [bb110Synch, bb110Dust, bb110Dxs, bb110Data], errs: [bb110SynchErr, [], bb110DxsErr, []] }
];

const svg = d3.select('#chart');

// x domain: data range padded by 5% (log space), as ggplot does
const xLog = d3.extent(pairX).map(Math.log10);
const xPad = (xLog[1] - xLog[0]) * 0.05;
const xDomain = [10 ** (xLog[0] - xPad), 10 ** (xLog[1] + xPad)];

const fmtTick = s => s.replace('-', '\u2212');

function drawPanel(p) {
    const L = layout[p.spec];
    const top = L.tops[p.row];
    const bottom = top + L.height;
    const x = d3.scaleLog().domain(xDomain).range([L.left, L.right]);

    let lo = Infinity, hi = -Infinity;
    p.series.forEach((vals, k) => vals.forEach((v, j) => {
        if (v == null) return;
        const e = p.errs[k][j] || 0;
        lo = Math.min(lo, v - e);
        hi = Math.max(hi, v + e);
    }));
    const pad = (hi - lo) * 0.05;
    const y = d3.scaleLog().domain([10 ** (lo - pad), 10 ** (hi + pad)]).range([bottom, top]);

    const clipId = `clip-${p.spec}-${p.row}`;
    svg.append('clipPath').attr('id', clipId)
        .append('rect')
        .attr('x', L.left).attr('y', top)
        .attr('width', L.right - L.left).attr('height', L.height);

    const g = svg.append('g').attr('clip-path', `url(#${clipId})`);

    const line = d3.line()
        .defined(d => d.v != null)
        .x(d => x(d.x))
        .y(d => y(10 ** d.v));

    const pointSets = p.series.map((vals, k) =>
        vals.map((v, j) => ({ x: pairX[j], v, e: p.errs[k][j] || 0 })));

    // lines
    pointSets.forEach((pts, k) => {
        g.append('path')
            .datum(pts)
            .attr('d', line)
            .attr('fill', 'none')
            .attr('stroke', seriesColors[k])
            .attr('stroke-width', lineWidths[k])
            .attr('stroke-linejoin', 'round');
    });

    // error bars (thin caps, as in the original)
    pointSets.forEach((pts, k) => {
        const eb = g.append('g')
            .attr('stroke', seriesColors[k])
            .attr('stroke-width', 3.2);
        pts.filter(d => d.v != null).forEach(d => {
            const cx = x(d.x);
            const cy = y(10 ** d.v);
            const y1 = Math.min(y(10 ** (d.v + d.e)), cy - 3.5);
            const y2 = Math.max(y(10 ** (d.v - d.e)), cy + 3.5);
            eb.append('line').attr('x1', cx).attr('x2', cx).attr('y1', y1).attr('y2', y2);
            eb.append('line').attr('x1', cx - 2.5).attr('x2', cx + 2.5).attr('y1', y1).attr('y2', y1).attr('stroke-width', 1.5);
            eb.append('line').attr('x1', cx - 2.5).attr('x2', cx + 2.5).attr('y1', y2).attr('y2', y2).attr('stroke-width', 1.5);
        });
    });

    // ell label
    svg.append('text')
        .attr('x', x(p.labelX))
        .attr('y', bottom - 9)
        .attr('text-anchor', 'middle')
        .attr('font-family', mathFont)
        .attr('font-size', 57)
        .attr('textLength', String(ells[p.row]).length > 2 ? 190 : 162)
        .attr('lengthAdjust', 'spacing')
        .attr('fill', '#000')
        .text(`\u2113 = ${ells[p.row]}`);

    // frame
    svg.append('rect')
        .attr('x', L.left).attr('y', top)
        .attr('width', L.right - L.left).attr('height', L.height)
        .attr('fill', 'none')
        .attr('stroke', '#333333')
        .attr('stroke-width', 3.5);

    // y ticks
    p.ticks.forEach(t => {
        const ty = y(+t);
        svg.append('line')
            .attr('x1', L.left - 8).attr('x2', L.left)
            .attr('y1', ty).attr('y2', ty)
            .attr('stroke', '#333333').attr('stroke-width', 2.5);
        svg.append('text')
            .attr('x', L.left - 13).attr('y', ty)
            .attr('dy', '0.36em')
            .attr('text-anchor', 'end')
            .attr('font-family', sansFont)
            .attr('font-size', 32)
            .attr('fill', '#4D4D4D')
            .text(fmtTick(t));
    });

    // x axis on bottom row only
    if (p.row === 4) {
        xTicks.forEach(t => {
            const tx = x(+t);
            svg.append('line')
                .attr('x1', tx).attr('x2', tx)
                .attr('y1', bottom).attr('y2', bottom + 8)
                .attr('stroke', '#333333').attr('stroke-width', 2.5);
            svg.append('text')
                .attr('x', tx).attr('y', bottom + 41)
                .attr('text-anchor', 'middle')
                .attr('font-family', sansFont)
                .attr('font-size', 32)
                .attr('fill', '#4D4D4D')
                .text(t);
        });
    }
}

panels.forEach(drawPanel);

// small helper for hand-set math text
function put(g, x, y, str, size, italic) {
    const t = g.append('text')
        .attr('x', x).attr('y', y)
        .attr('font-family', mathFont)
        .attr('font-size', size)
        .attr('font-style', italic ? 'italic' : 'normal')
        .attr('fill', '#000')
        .text(str);
    return x + t.node().getComputedTextLength();
}

function yLabel(cx, cy) {
    const outer = svg.append('g').attr('transform', `translate(${cx},${cy}) rotate(-90)`);
    const g = outer.append('g');
    let x = put(g, 0, 0, 'D', 62, true);
    const xs = x + 2;
    let x2 = put(g, xs, -36, '\u03BD', 44, true);
    x2 = put(g, x2, -27, '1', 30, false);
    x2 = put(g, x2 + 2, -36, '\u00D7', 44, false);
    x2 = put(g, x2 + 2, -36, '\u03BD', 44, true);
    x2 = put(g, x2, -27, '2', 30, false);
    put(g, xs, 10, '\u2113', 44, true);
    x = x2 + 34;
    x = put(g, x, 0, '(', 62, false);
    x = put(g, x, 0, '\u03BC', 62, true);
    x = put(g, x, 0, 'K', 62, false);
    x = put(g, x + 1, -28, '2', 42, false);
    x = put(g, x + 2, 0, ')', 62, false);
    g.attr('transform', `translate(${-x / 2},0)`);
}

function xLabel(cx, baseY) {
    const outer = svg.append('g').attr('transform', `translate(${cx},${baseY})`);
    const g = outer.append('g');
    const rad = g.append('text')
        .attr('x', 0).attr('y', 6)
        .attr('font-family', '"DejaVu Sans", sans-serif')
        .attr('font-size', 58)
        .attr('fill', '#000')
        .text('\u221A');
    const rw = rad.node().getComputedTextLength();
    let x = put(g, rw, 0, '\u03BD', 54, true);
    x = put(g, x, 7, '1', 36, false);
    x = put(g, x, 0, '\u03BD', 54, true);
    x = put(g, x, 7, '2', 36, false);
    const bb = rad.node().getBBox();
    g.append('line')
        .attr('x1', rw - 3).attr('x2', x + 2)
        .attr('y1', bb.y + 4).attr('y2', bb.y + 4)
        .attr('stroke', '#000').attr('stroke-width', 3);
    g.attr('transform', `translate(${-x / 2},0)`);
}

['EE', 'BB'].forEach(spec => {
    const L = layout[spec];
    svg.append('text')
        .attr('x', L.titleX).attr('y', 60)
        .attr('text-anchor', 'middle')
        .attr('font-family', sansFont)
        .attr('font-size', 60)
        .attr('fill', '#000')
        .text(spec);
    yLabel(L.yLabelX, 625);
    xLabel(L.xLabelX, 1398);
});

// legend
const legend = svg.append('g');
legend.append('rect')
    .attr('x', 1275).attr('y', 22)
    .attr('width', 272).attr('height', 303)
    .attr('fill', '#fff')
    .attr('stroke', '#1a1a1a')
    .attr('stroke-width', 2.5);
seriesNames.forEach((name, k) => {
    const ly = 56 + k * 71;
    legend.append('line')
        .attr('x1', 1311).attr('x2', 1368)
        .attr('y1', ly).attr('y2', ly)
        .attr('stroke', seriesColors[k])
        .attr('stroke-width', 7);
    legend.append('text')
        .attr('x', 1385).attr('y', ly)
        .attr('dy', '0.35em')
        .attr('font-family', sansFont)
        .attr('font-size', 35)
        .attr('fill', '#1a1a1a')
        .text(name);
});
</script>
</body>
</html>
